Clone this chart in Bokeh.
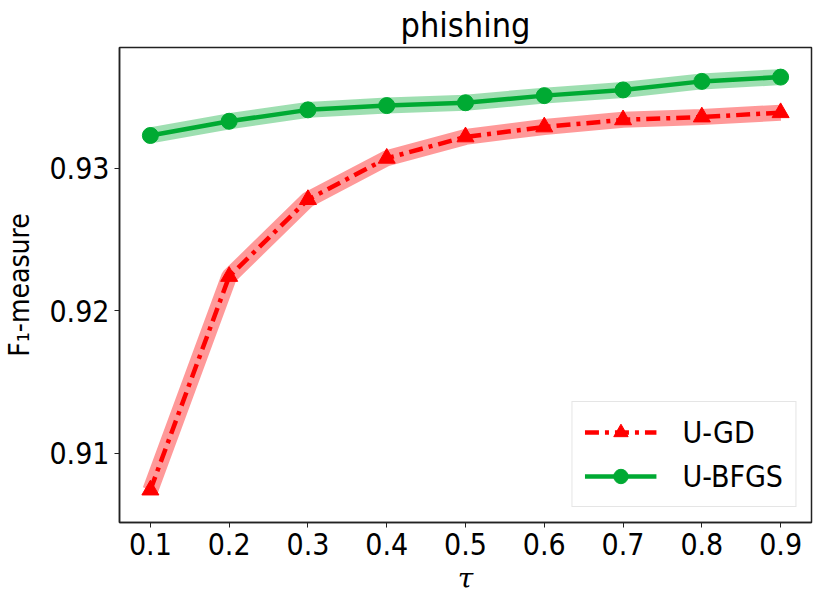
from bokeh.plotting import figure
from bokeh.models import Range1d, FixedTicker, Legend, LegendItem, Title
from bokeh.embed import file_html
from bokeh.resources import INLINE

tau = [0.1, 0.2, 0.3, 0.4, 0.5, 0.6, 0.7, 0.8, 0.9]
u_gd = [0.9074, 0.9224, 0.9278, 0.9307, 0.9322, 0.9329, 0.9334, 0.9336, 0.9339]
u_bfgs = [0.9323, 0.9333, 0.9341, 0.9344, 0.9346, 0.9351, 0.9355, 0.9361, 0.9364]
y_ticks = [0.91, 0.92, 0.93]

RED = "#ff0000"
GREEN = "#00aa33"
FONT = "'Liberation Sans Narrow', 'DejaVu Sans Condensed', Lato"

p = figure(width=815, height=597, output_backend="svg", toolbar_location=None,
           x_range=Range1d(0.0608, 0.9392), y_range=Range1d(0.90512, 0.93848),
           min_border_left=113, min_border_right=4, min_border_top=46, min_border_bottom=74)
p.title = Title(text="phishing", align="center", text_font=FONT, text_font_size="34px",
                text_font_style="normal", text_color="black", offset=0, standoff=5)
p.xgrid.visible = False
p.ygrid.visible = False
p.outline_line_color = "#222222"
p.outline_line_width = 1.5

for ax in (p.xaxis[0], p.yaxis[0]):
    ax.major_label_text_font = FONT
    ax.major_label_text_font_size = "30px"
    ax.major_label_text_color = "black"
    ax.axis_line_color = "#222222"
    ax.axis_line_width = 1.5
    ax.major_tick_line_color = "#222222"
    ax.major_tick_out = 5
    ax.major_tick_in = 0
    ax.minor_tick_line_color = None
    ax.axis_label_text_font_size = "28px"
    ax.axis_label_text_color = "black"

p.xaxis.ticker = FixedTicker(ticks=tau)
p.yaxis.ticker = FixedTicker(ticks=y_ticks)
p.xaxis.axis_label = "τ"
p.xaxis.axis_label_text_font = "DejaVu Serif"
p.xaxis.axis_label_text_font_style = "italic"
p.xaxis.axis_label_standoff = 4
p.yaxis.axis_label = "F₁-measure"
p.yaxis.axis_label_text_font = FONT
p.yaxis.axis_label_text_font_style = "normal"
p.yaxis.axis_label_standoff = 10

# shaded bands
p.line(tau, u_gd, line_color=RED, line_alpha=0.4, line_width=16)
p.line(tau, u_bfgs, line_color=GREEN, line_alpha=0.38, line_width=16)

l1 = p.line(tau, u_gd, line_color=RED, line_width=4.5, line_dash="14 6 4 6")
m1 = p.scatter(tau, u_gd, marker="triangle", size=17, fill_color=RED, line_color=RED)
l2 = p.line(tau, u_bfgs, line_color=GREEN, line_width=4.5)
m2 = p.scatter(tau, u_bfgs, marker="circle", size=16, fill_color=GREEN, line_color=GREEN)

legend = Legend(items=[LegendItem(label="U-GD", renderers=[l1, m1]),
                       LegendItem(label="U-BFGS", renderers=[l2, m2])],
                location="bottom_right", margin=15)
legend.label_text_font = FONT
legend.label_text_font_size = "30px"
legend.label_text_color = "black"
legend.glyph_width = 72
legend.glyph_height = 36
legend.label_standoff = 26
legend.padding = 12
legend.spacing = 8
legend.border_line_color = "#cccccc"
legend.border_line_width = 1.2
legend.background_fill_alpha = 0.85
p.add_layout(legend)

open("out.html", "w").write(file_html(p, INLINE))
